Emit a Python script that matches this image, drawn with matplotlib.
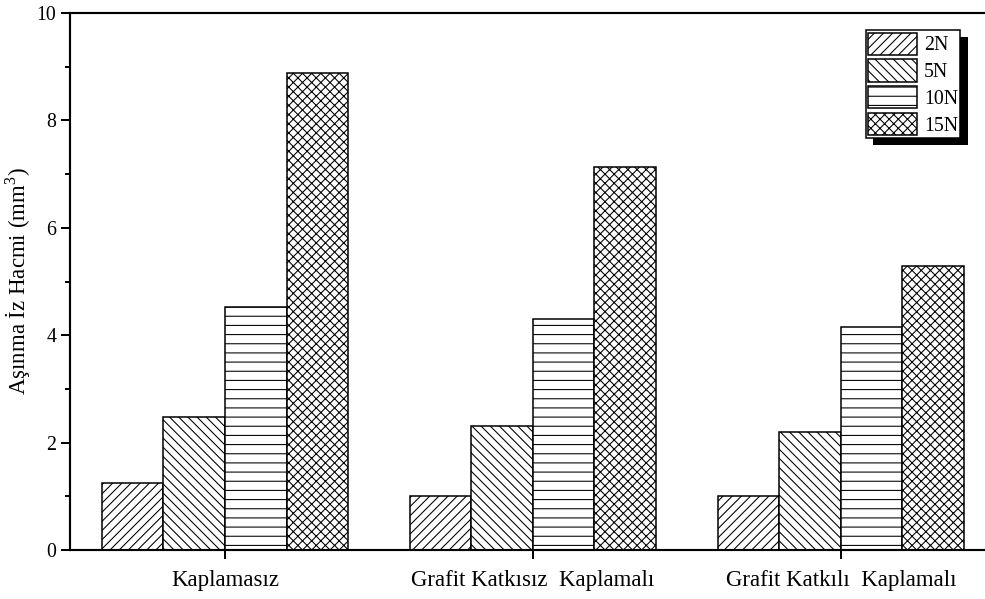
import numpy as np
import matplotlib
matplotlib.use("Agg")
import matplotlib.pyplot as plt
from matplotlib import patheffects
from matplotlib.ticker import MultipleLocator

# Wear track volume (mm^3) per coating type and applied load
categories = ["Kaplamasız", "Grafit Katkısız  Kaplamalı", "Grafit Katkılı  Kaplamalı"]
loads = ["2N", "5N", "10N", "15N"]
vol_2N = [1.25, 1.00, 1.00]
vol_5N = [2.48, 2.31, 2.20]
vol_10N = [4.52, 4.30, 4.15]
vol_15N = [8.88, 7.13, 5.29]
hatches = ["////", "\\\\\\\\", "--", "xxxx"]

plt.rcParams["font.family"] = ["Liberation Serif", "DejaVu Serif"]
plt.rcParams["mathtext.fontset"] = "custom"
plt.rcParams["mathtext.rm"] = "Liberation Serif"
plt.rcParams["hatch.linewidth"] = 0.7
plt.rcParams["hatch.color"] = "black"

DPI = 110
fig = plt.figure(figsize=(985 / DPI, 599 / DPI), dpi=DPI)
ax = fig.add_axes([70 / 985, 49 / 599, 915 / 985, 537 / 599])

series = [vol_2N, vol_5N, vol_10N, vol_15N]
x = np.arange(len(categories))
width = 0.2
for i, (vals, lab, h) in enumerate(zip(series, loads, hatches)):
    ax.bar(x + (i - 1.5) * width, vals, width, label=lab, hatch=h,
           facecolor="white", edgecolor="black", linewidth=1.0)

ax.set_xlim(-0.503, 2.468)
ax.set_ylim(0, 10)
ax.set_xticks(x)
ax.set_xticklabels(categories, fontsize=15)
ax.yaxis.set_major_locator(MultipleLocator(2))
ax.yaxis.set_minor_locator(MultipleLocator(1))
ax.tick_params(axis="y", labelsize=13, direction="out", length=6, width=1.3, pad=3)
ax.tick_params(axis="y", which="minor", direction="out", length=3.5, width=1.3)
ax.tick_params(axis="x", direction="out", length=6, width=1.3, pad=7)
ax.tick_params(axis="x", which="minor", bottom=False)

for side in ("left", "bottom", "top"):
    ax.spines[side].set_linewidth(1.4)
ax.spines["right"].set_visible(False)

ax.set_ylabel("Aşınma İz Hacmi (mm$^{3}$)", fontsize=15, labelpad=2)

leg = ax.legend(loc="upper right", bbox_to_anchor=(0.973, 0.968), borderaxespad=0,
                fontsize=13, fancybox=False, framealpha=1, edgecolor="black",
                handlelength=2.45, handleheight=1.35, labelspacing=0.2,
                handletextpad=0.35, borderpad=0.12)
leg.get_frame().set_linewidth(1.0)
leg.get_frame().set_path_effects([
    patheffects.SimplePatchShadow(offset=(5, -4.5), shadow_rgbFace="black", alpha=1.0),
    patheffects.Normal(),
])

fig.savefig("out.png", dpi=DPI)
